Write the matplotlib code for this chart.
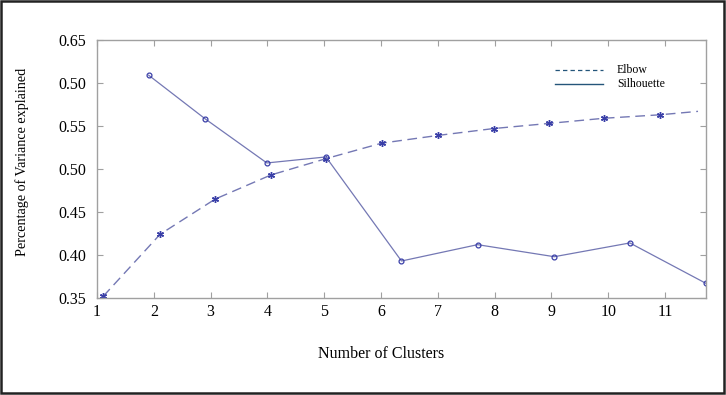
import matplotlib
matplotlib.use("Agg")
import matplotlib.pyplot as plt
from matplotlib.patches import Rectangle

# values
clusters = [1, 2, 3, 4, 5, 6, 7, 8, 9, 10, 11]
ytick_vals = [0.35, 0.40, 0.45, 0.50, 0.55, 0.60, 0.65]
ytick_text = ["0.35", "0.40", "0.45", "0.50", "0.55", "0.50", "0.65"]  # as printed in the source

elbow_x = [1.11, 2.11, 3.08, 4.06, 5.03, 6.01, 7.00, 7.98, 8.96, 9.93, 10.91, 11.58]
elbow_y = [0.352, 0.424, 0.465, 0.493, 0.512, 0.530, 0.539, 0.547, 0.553, 0.559, 0.563, 0.567]

sil_x = [1.91, 2.91, 3.99, 5.03, 6.36, 7.70, 9.05, 10.38, 11.72]
sil_y = [0.609, 0.558, 0.507, 0.514, 0.393, 0.412, 0.398, 0.414, 0.367]

plt.rcParams['font.family'] = ['Liberation Serif', 'DejaVu Serif']

fig = plt.figure(figsize=(7.26, 3.95), dpi=100)
ax = fig.add_axes([0.1336, 0.2456, 0.8388, 0.6532])

line_col = '#7478b4'
mark_col = '#3a3fa8'

# elbow curve: dashed, asterisk markers (last point is just the end of the line)
ax.plot(elbow_x, elbow_y, color=line_col, lw=1.0, dashes=(7, 4),
        marker=(6, 2, 0), ms=5, mec=mark_col, mew=1.0,
        markevery=list(range(len(elbow_x) - 1)))
# silhouette: solid, small open circles
ax.plot(sil_x, sil_y, color=line_col, lw=0.9,
        marker='o', ms=3.5, mfc='none', mec=mark_col, mew=0.9)

ax.set_xlim(1, 11.72)
ax.set_ylim(0.35, 0.65)
ax.set_xticks(clusters)
ax.set_xticklabels([str(c) for c in clusters])
ax.set_yticks(ytick_vals)
ax.set_yticklabels(ytick_text)

for s in ax.spines.values():
    s.set_color('#a0a0a0')
    s.set_linewidth(1.0)
ax.tick_params(direction='in', length=4, color='#a0a0a0', labelsize=11.5,
               top=True, right=True)
ax.tick_params(axis='y', pad=8)
ax.tick_params(axis='x', pad=4)

ax.set_ylabel('Percentage of Variance explained', fontsize=10.2)
ax.yaxis.set_label_coords(-0.111, 0.527)
ax.set_xlabel('Number of Clusters', fontsize=11.5)
ax.xaxis.set_label_coords(0.467, -0.185)

# hand-made legend, no frame
leg_col = '#24557a'
ax.plot([0.752, 0.831], [0.884, 0.884], transform=ax.transAxes, color=leg_col,
        lw=0.9, dashes=(3.5, 2.5))
ax.plot([0.752, 0.831], [0.829, 0.829], transform=ax.transAxes, color=leg_col, lw=1.0)
ax.text(0.854, 0.884, 'Elbow', transform=ax.transAxes, fontsize=8.5, va='center')
ax.text(0.854, 0.829, 'Silhouette', transform=ax.transAxes, fontsize=8.5, va='center')

# outer frame around the whole picture
fig.patches.append(Rectangle((0.002, 0.004), 0.995, 0.994, transform=fig.transFigure,
                             fill=False, edgecolor='#222222', lw=1.8))

fig.savefig('out.png', dpi=100)
